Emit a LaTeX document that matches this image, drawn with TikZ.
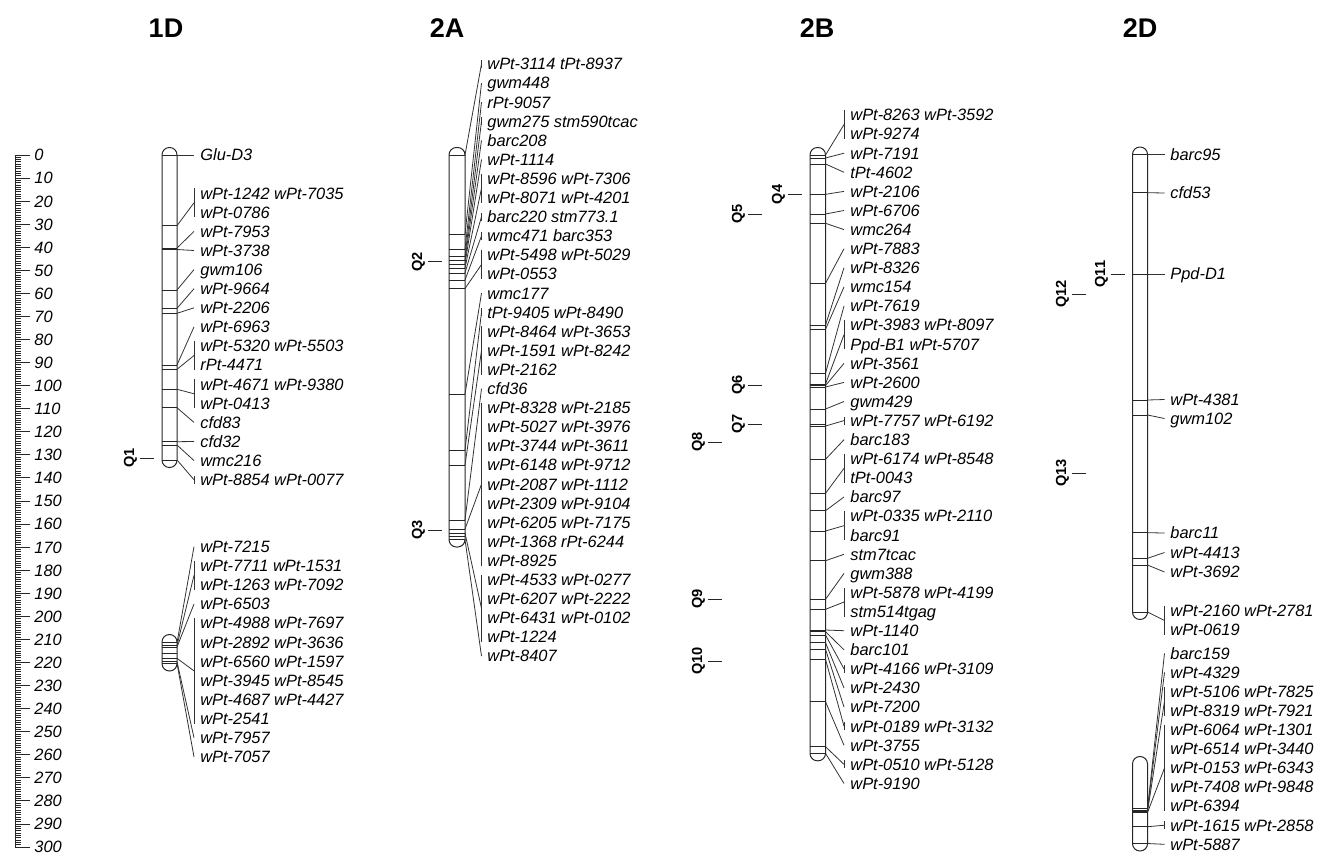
\documentclass[tikz,border=0pt]{standalone}
\usepackage{fontspec}
\setmainfont{Liberation Sans}
\usepackage{tikz}
\usetikzlibrary{positioning}

\begin{document}
\begin{tikzpicture}[
  x=0.5pt, y=-0.5pt,
  every node/.style={inner sep=0pt},
  mk/.style={anchor=west, font=\itshape\fontsize{8.2}{9}\selectfont,
             text height=5.87pt, text depth=0pt},
  ttl/.style={font=\bfseries\fontsize{13.5}{15}\selectfont},
  qlbl/.style={rotate=90, font=\bfseries\fontsize{7.3}{8}\selectfont,
               text height=5.2pt, text depth=0pt},
  chrom/.style={draw=black!85, line width=0.5pt, rounded corners=3.7pt},
  band/.style={draw=black!85, line width=0.45pt},
  conn/.style={draw=black!80, line width=0.4pt},
  tick/.style={draw=black!85, line width=0.45pt},
]
\useasboundingbox (0,0) rectangle (1325,856);

% scale (cM)
\coordinate (sc-top) at (15,155);
\coordinate (sc-bot) at (15,847);
\draw[tick] (sc-top) -- (sc-bot);
\foreach \v in {0,...,300}
  \draw[tick] (15,{155+2.3067*\v}) -- ++(6,0);
\foreach \v in {0,10,...,300} {
  \draw[tick] (15,{155+2.3067*\v}) -- ++(15,0);
  \node[mk] (sc-\v) at (34,{155+2.3067*\v}) {\v};
}

% titles
\node[ttl] (t1D) at (166,28) {1D};
\node[ttl] (t2A) at (447,28) {2A};
\node[ttl] (t2B) at (817,28) {2B};
\node[ttl] (t2D) at (1140,28) {2D};

% QTL marks
\foreach \q/\x/\y in {1/129/458, 2/417/261.7, 3/417/530, 4/777/194.3, 5/737/214,
    6/737/385, 7/737/424, 8/697/442, 9/697/599, 10/697/661,
    11/1100/274, 12/1061/294, 13/1061/473} {
  \node[qlbl] (q\q) at (\x,\y) {Q\q};
  \draw[tick] ([xshift=2.5pt]q\q.south) -- ++(14,0);
}

% 1D, upper part
\draw[chrom] (162,147.5) rectangle (177,467.5);
\foreach \y in {155,225.7,248,249.5,290,308.3,313.3,365,369.3,389.3,407.7,441.7,445,460}
  \draw[band] (162,\y) -- (177,\y);
\foreach \n/\lab in {0/Glu-D3, 2/wPt-1242 wPt-7035, 3/wPt-0786, 4/wPt-7953, 5/wPt-3738,
    6/gwm106, 7/wPt-9664, 8/wPt-2206, 9/wPt-6963, 10/wPt-5320 wPt-5503, 11/rPt-4471,
    12/wPt-4671 wPt-9380, 13/wPt-0413, 14/cfd83, 15/cfd32, 16/wmc216, 17/wPt-8854 wPt-0077}
  \node[mk] (d1a-\n) at (200,{155+19.1*\n}) {\lab};
\foreach \m/\a/\b/\e in {155/0/0/0, 225.7/2/3/5, 248/4/4/0, 249.5/5/5/0, 290/6/6/0,
    308.3/7/7/0, 313.3/8/8/0, 365/9/9/0, 369.3/10/11/5, 389.3/12/13/5, 407.7/14/14/0,
    441.7/15/15/0, 445/16/16/0, 460/17/17/4} {
  \coordinate (d1a-m\a) at (177,\m);
  \coordinate (d1a-b\a) at (194,{155+19.1*(\a+\b)/2});
  \coordinate (d1a-t\a) at (194,{155+19.1*\a-\e});
  \coordinate (d1a-u\a) at (194,{155+19.1*\b+\e});
  \draw[conn] (d1a-m\a) -- (d1a-b\a);
  \draw[conn] (d1a-t\a) -- (d1a-u\a);
}

% 1D, lower part
\draw[chrom] (162,634.5) rectangle (177,671);
\foreach \y in {642.7,645.5,647,653.3,658.3,661.7,663.3}
  \draw[band] (162,\y) -- (177,\y);
\foreach \n/\lab in {0/wPt-7215, 1/wPt-7711 wPt-1531, 2/wPt-1263 wPt-7092, 3/wPt-6503,
    4/wPt-4988 wPt-7697, 5/wPt-2892 wPt-3636, 6/wPt-6560 wPt-1597, 7/wPt-3945 wPt-8545,
    8/wPt-4687 wPt-4427, 9/wPt-2541, 10/wPt-7957, 11/wPt-7057}
  \node[mk] (d1b-\n) at (200,{546.7+19.1*\n}) {\lab};
\foreach \m/\a/\b/\e in {642.7/0/0/0, 645.5/1/2/5, 647/3/3/0, 658.3/4/9/5,
    661.7/10/10/0, 663.3/11/11/0} {
  \coordinate (d1b-m\a) at (177,\m);
  \coordinate (d1b-b\a) at (194,{546.7+19.1*(\a+\b)/2});
  \coordinate (d1b-t\a) at (194,{546.7+19.1*\a-\e});
  \coordinate (d1b-u\a) at (194,{546.7+19.1*\b+\e});
  \draw[conn] (d1b-m\a) -- (d1b-b\a);
  \draw[conn] (d1b-t\a) -- (d1b-u\a);
}

% 2A
\draw[chrom] (449,147.5) rectangle (465,547);
\foreach \y in {155,234,249,256,260,264,268,273,280,288.5,394,450,465,520,529,533,536,539.5}
  \draw[band] (449,\y) -- (465,\y);
\foreach \n/\lab in {0/wPt-3114 tPt-8937, 1/gwm448, 2/rPt-9057, 3/gwm275 stm590tcac,
    4/barc208, 5/wPt-1114, 6/wPt-8596 wPt-7306, 7/wPt-8071 wPt-4201, 8/barc220 stm773.1,
    9/wmc471 barc353, 10/wPt-5498 wPt-5029, 11/wPt-0553, 12/wmc177, 13/tPt-9405 wPt-8490,
    14/wPt-8464 wPt-3653, 15/wPt-1591 wPt-8242, 16/wPt-2162, 17/cfd36,
    18/wPt-8328 wPt-2185, 19/wPt-5027 wPt-3976, 20/wPt-3744 wPt-3611,
    21/wPt-6148 wPt-9712, 22/wPt-2087 wPt-1112, 23/wPt-2309 wPt-9104,
    24/wPt-6205 wPt-7175, 25/wPt-1368 rPt-6244, 26/wPt-8925, 27/wPt-4533 wPt-0277,
    28/wPt-6207 wPt-2222, 29/wPt-6431 wPt-0102, 30/wPt-1224, 31/wPt-8407}
  \node[mk] (d2a-\n) at (487,{64+19.1*\n}) {\lab};
\foreach \m/\a/\b/\e in {155/0/0/4, 234/1/1/0, 249/2/2/0, 256/3/3/4, 260/4/4/0,
    264/5/5/0, 268/6/7/5, 273/8/8/4, 280/9/9/4, 288.5/10/11/5, 394/12/12/0,
    450/13/13/4, 465/14/16/5, 520/17/17/0, 529/18/26/5, 533/27/30/5, 539.5/31/31/0} {
  \coordinate (d2a-m\a) at (465,\m);
  \coordinate (d2a-b\a) at (481.5,{64+19.1*(\a+\b)/2});
  \coordinate (d2a-t\a) at (481.5,{64+19.1*\a-\e});
  \coordinate (d2a-u\a) at (481.5,{64+19.1*\b+\e});
  \draw[conn] (d2a-m\a) -- (d2a-b\a);
  \draw[conn] (d2a-t\a) -- (d2a-u\a);
}

% 2B
\draw[chrom] (810,147.5) rectangle (825.5,760.8);
\foreach \y in {155,158,164,194.3,214,223.3,283.3,325,329.3,373.3,384,385.5,387,409,424,426,
    459.3,493.3,510.7,531,560.7,599.3,609.3,630,631.7,635,642.7,649.3,659.3,701.7,746.7,753.3}
  \draw[band] (810,\y) -- (825.5,\y);
\foreach \n/\lab in {0/wPt-8263 wPt-3592, 1/wPt-9274, 2/wPt-7191, 3/tPt-4602, 4/wPt-2106,
    5/wPt-6706, 6/wmc264, 7/wPt-7883, 8/wPt-8326, 9/wmc154, 10/wPt-7619,
    11/wPt-3983 wPt-8097, 12/Ppd-B1 wPt-5707, 13/wPt-3561, 14/wPt-2600, 15/gwm429,
    16/wPt-7757 wPt-6192, 17/barc183, 18/wPt-6174 wPt-8548, 19/tPt-0043, 20/barc97,
    21/wPt-0335 wPt-2110, 22/barc91, 23/stm7tcac, 24/gwm388, 25/wPt-5878 wPt-4199,
    26/stm514tgag, 27/wPt-1140, 28/barc101, 29/wPt-4166 wPt-3109, 30/wPt-2430,
    31/wPt-7200, 32/wPt-0189 wPt-3132, 33/wPt-3755, 34/wPt-0510 wPt-5128, 35/wPt-9190}
  \node[mk] (d2b-\n) at (850,{115+19.1*\n}) {\lab};
\foreach \m/\a/\b/\e in {155/0/1/5, 158/2/2/0, 164/3/3/0, 194.3/4/4/0, 214/5/5/0,
    223.3/6/6/0, 283.3/7/7/0, 325/8/8/0, 329.3/9/9/0, 373.3/10/10/0, 384/11/12/5,
    385.5/13/13/0, 387/14/14/0, 409/15/15/0, 426/16/16/4, 459.3/17/17/0, 493.3/18/19/5,
    510.7/20/20/0, 531/21/22/5, 560.7/23/23/0, 599.3/24/24/0, 609.3/25/26/5,
    630/27/27/0, 631.7/28/28/0, 635/29/29/4, 642.7/30/30/0, 649.3/31/31/0,
    659.3/32/32/4, 701.7/33/33/0, 746.7/34/34/4, 753.3/35/35/0} {
  \coordinate (d2b-m\a) at (825.5,\m);
  \coordinate (d2b-b\a) at (844,{115+19.1*(\a+\b)/2});
  \coordinate (d2b-t\a) at (844,{115+19.1*\a-\e});
  \coordinate (d2b-u\a) at (844,{115+19.1*\b+\e});
  \draw[conn] (d2b-m\a) -- (d2b-b\a);
  \draw[conn] (d2b-t\a) -- (d2b-u\a);
}

% 2D, upper part
\draw[chrom] (1132.5,147) rectangle (1147.5,619.5);
\foreach \y in {154.5,192.7,274,400,415,532.7,558.3,565,612}
  \draw[band] (1132.5,\y) -- (1147.5,\y);
\foreach \y/\lab [count=\i] in {154.5/barc95, 193/cfd53, 274/Ppd-D1, 399.5/wPt-4381,
    418.5/gwm102, 533/barc11, 552.5/wPt-4413, 572/wPt-3692, 611/wPt-2160 wPt-2781,
    630/wPt-0619}
  \node[mk] (d2d-\i) at (1170,\y) {\lab};
\foreach \m/\ya/\yb/\e [count=\i] in {154.5/154.5/154.5/0, 192.7/193/193/0,
    274/274/274/0, 400/399.5/399.5/0, 415/418.5/418.5/0, 532.7/533/533/0,
    558.3/552.5/552.5/0, 565/572/572/0, 612/611/630/5} {
  \coordinate (d2d-m\i) at (1147.5,\m);
  \coordinate (d2d-b\i) at (1164.5,{(\ya+\yb)/2});
  \coordinate (d2d-t\i) at (1164.5,{\ya-\e});
  \coordinate (d2d-u\i) at (1164.5,{\yb+\e});
  \draw[conn] (d2d-m\i) -- (d2d-b\i);
  \draw[conn] (d2d-t\i) -- (d2d-u\i);
}

% 2D, lower part
\draw[chrom] (1132.5,756.5) rectangle (1147.5,851);
\foreach \y in {808.5,810,811.5,812.5,826.7,843.5}
  \draw[band] (1132.5,\y) -- (1147.5,\y);
\foreach \n/\lab in {0/barc159, 1/wPt-4329, 2/wPt-5106 wPt-7825, 3/wPt-8319 wPt-7921,
    4/wPt-6064 wPt-1301, 5/wPt-6514 wPt-3440, 6/wPt-0153 wPt-6343,
    7/wPt-7408 wPt-9848, 8/wPt-6394, 9/wPt-1615 wPt-2858, 10/wPt-5887}
  \node[mk] (d2e-\n) at (1170,{653.3+19.1*\n}) {\lab};
\foreach \m/\a/\b/\e in {808.5/0/0/0, 810/1/1/0, 811.5/2/3/5, 812.5/4/8/5,
    826.7/9/9/4, 843.5/10/10/0} {
  \coordinate (d2e-m\a) at (1147.5,\m);
  \coordinate (d2e-b\a) at (1164.5,{653.3+19.1*(\a+\b)/2});
  \coordinate (d2e-t\a) at (1164.5,{653.3+19.1*\a-\e});
  \coordinate (d2e-u\a) at (1164.5,{653.3+19.1*\b+\e});
  \draw[conn] (d2e-m\a) -- (d2e-b\a);
  \draw[conn] (d2e-t\a) -- (d2e-u\a);
}
\end{tikzpicture}
\end{document}
